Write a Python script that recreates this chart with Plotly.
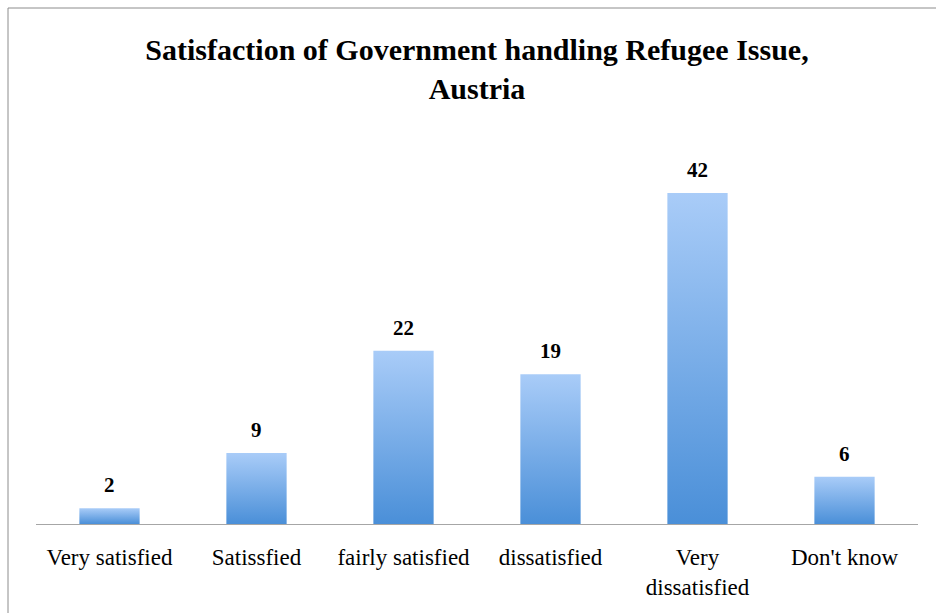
import plotly.graph_objects as go

# Survey responses (%)
categories = ["Very satisfied", "Satissfied", "fairly satisfied", "dissatisfied",
              "Very<br>dissatisfied", "Don't know"]
values = [2, 9, 22, 19, 42, 6]

TITLE = "Satisfaction of Government handling Refugee Issue,<br>Austria"
SERIF = "'Times New Roman', 'Liberation Serif', 'DejaVu Serif', serif"
BAR_HALF = 0.205

fig = go.Figure()

# each bar as a filled polygon so it can carry a vertical gradient
for i, v in enumerate(values):
    fig.add_trace(go.Scatter(
        x=[i - BAR_HALF, i + BAR_HALF, i + BAR_HALF, i - BAR_HALF, i - BAR_HALF],
        y=[0, 0, v, v, 0],
        mode="lines",
        line=dict(width=0),
        fill="toself",
        fillgradient=dict(
            type="vertical",
            colorscale=[[0, "#4a8fd8"], [1, "#a9ccf8"]],
        ),
        hoverinfo="skip",
        showlegend=False,
    ))

# value labels above the bars
for i, v in enumerate(values):
    fig.add_annotation(
        x=i, y=v, text=f"<b>{v}</b>", showarrow=False,
        yanchor="bottom", yshift=9,
        font=dict(family=SERIF, size=21, color="#000"),
    )

fig.update_layout(
    width=936, height=613,
    margin=dict(l=36, r=18, t=130, b=89),
    paper_bgcolor="white",
    plot_bgcolor="white",
    font=dict(family=SERIF),
    title=dict(
        text=f"<b>{TITLE}</b>",
        x=0.5, xref="paper", xanchor="center",
        y=1 - 60 / 613, yref="container", yanchor="top",
        font=dict(family=SERIF, size=30, color="#000"),
    ),
    xaxis=dict(
        range=[-0.5, len(values) - 0.5],
        tickmode="array",
        tickvals=list(range(len(values))),
        ticktext=categories,
        showgrid=False, zeroline=False,
        showline=True, linecolor="#a6a6a6", linewidth=1,
        ticks="outside", ticklen=12, tickcolor="rgba(0,0,0,0)",
        tickfont=dict(family=SERIF, size=23, color="#000"),
        fixedrange=True,
    ),
    yaxis=dict(
        range=[0, 50], visible=False, showgrid=False, zeroline=False,
        fixedrange=True,
    ),
    shapes=[dict(
        type="rect", xref="paper", yref="paper",
        x0=(8 - 36) / 882, x1=(940 - 36) / 882,
        y0=(524 - 620) / 394, y1=(524 - 8) / 394,
        line=dict(color="#8c8c8c", width=1),
        fillcolor="rgba(0,0,0,0)", layer="below",
    )],
)

fig.write_html("out.html")
